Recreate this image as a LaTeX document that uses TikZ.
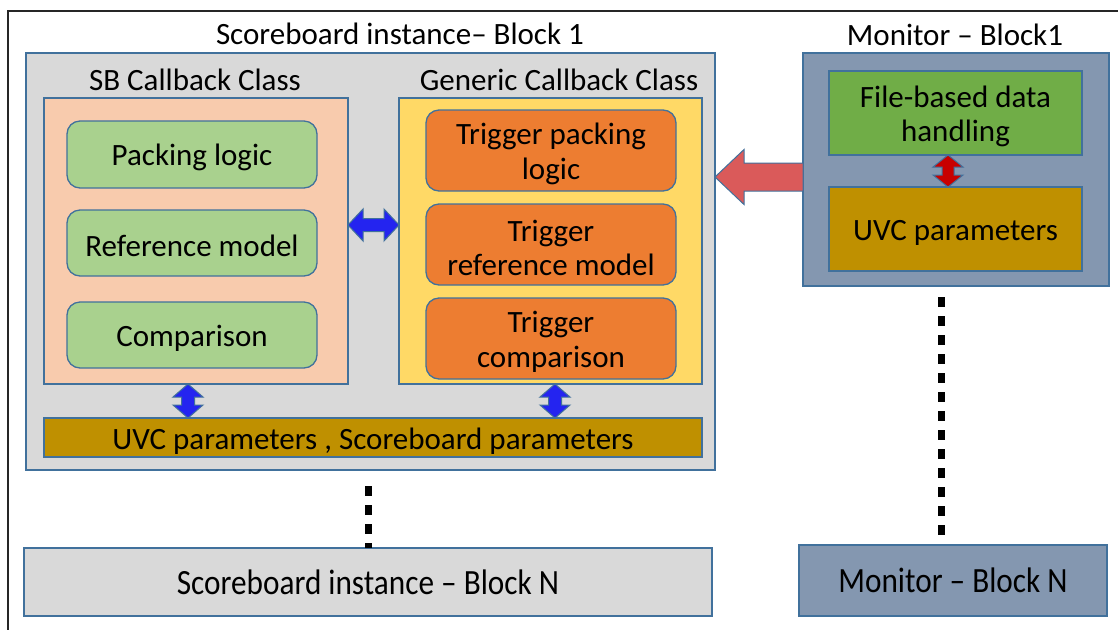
\documentclass[tikz,border=0pt]{standalone}
\usepackage{fontspec}
\usepackage{graphicx}
\setmainfont{Carlito}
\usetikzlibrary{calc}

\definecolor{edge}{HTML}{41719C}
\definecolor{panelgray}{HTML}{D9D9D9}
\definecolor{peach}{HTML}{F8CBAD}
\definecolor{lightgreen}{HTML}{A9D18E}
\definecolor{sunyellow}{HTML}{FFD966}
\definecolor{orangefill}{HTML}{ED7D31}
\definecolor{gold}{HTML}{BF9000}
\definecolor{slate}{HTML}{8497B0}
\definecolor{leafgreen}{HTML}{70AD47}
\definecolor{arrowblue}{HTML}{2424F0}
\definecolor{arrowred}{HTML}{C80000}
\definecolor{bigred}{HTML}{DA5A5A}

% tall invisible strut for the first line of a box text: sets it a little lower
\newcommand{\firstline}{\rule{0pt}{28pt}}

% vertical double block arrow: #1 top tip, #2 bottom tip, #3 head length,
% #4 head half width, #5 shaft half width, #6 fill
\newcommand{\vblockarrow}[6]{%
  \path[fill=#6, draw=edge, line width=1pt, line join=miter]
    let \p1=(#1), \p2=(#2) in
    (\x1,\y1) -- (\x1+#4,\y1-#3) -- (\x1+#5,\y1-#3) -- (\x1+#5,\y2+#3)
    -- (\x1+#4,\y2+#3) -- (\x1,\y2) -- (\x1-#4,\y2+#3) -- (\x1-#5,\y2+#3)
    -- (\x1-#5,\y1-#3) -- (\x1-#4,\y1-#3) -- cycle;}
% horizontal double block arrow: #1 left tip, #2 right tip
\newcommand{\hblockarrow}[6]{%
  \path[fill=#6, draw=edge, line width=1pt, line join=miter]
    let \p1=(#1), \p2=(#2) in
    (\x1,\y1) -- (\x1+#3,\y1+#4) -- (\x1+#3,\y1+#5) -- (\x2-#3,\y1+#5)
    -- (\x2-#3,\y1+#4) -- (\x2,\y1) -- (\x2-#3,\y1-#4) -- (\x2-#3,\y1-#5)
    -- (\x1+#3,\y1-#5) -- (\x1+#3,\y1-#4) -- cycle;}

\begin{document}
\begin{tikzpicture}[x=1pt, y=-1pt,
  every node/.style={inner sep=0pt, outer sep=0pt},
  txt/.style={font=\fontsize{31}{34.5}\selectfont, align=center},
  panel/.style={draw=edge, line width=1.3pt, txt},
  roundbox/.style={panel, rounded corners=13pt},
  label/.style={txt, anchor=base},
  tall/.style={font=\fontsize{35.5}{38}\selectfont},
  dotline/.style={line width=7pt, dash pattern=on 10pt off 9pt, black}]

\useasboundingbox (0,0) rectangle (1118,630);
\fill[white] (0,0) rectangle (1118,630);

% page frame
\draw[line width=2pt, black!85] (1118,11) -- (8,11) -- (8,630);

% scoreboard instance, block 1
\node[panel, fill=panelgray, minimum width=689pt, minimum height=417pt] (sb1) at (370.5,261.5) {};
\node[label] (sb1t) at (400,44) {Scoreboard instance– Block 1};

\node[panel, fill=peach, minimum width=304pt, minimum height=286pt] (sbc) at (196,241) {};
\node[label] (sbct) at (195,90) {SB Callback Class};
\node[roundbox, fill=lightgreen, minimum width=250pt, minimum height=67pt] (pack) at (192,154.5) {\firstline Packing logic};
\node[roundbox, fill=lightgreen, minimum width=250pt, minimum height=66pt] (refm) at (192,243) {\firstline Reference model};
\node[roundbox, fill=lightgreen, minimum width=250pt, minimum height=66pt] (comp) at (192,335) {\firstline Comparison};

\node[panel, fill=sunyellow, minimum width=303pt, minimum height=286pt] (gcc) at (550.5,241) {};
\node[label] (gcct) at (559,90) {Generic Callback Class};
\node[roundbox, fill=orangefill, minimum width=250pt, minimum height=81pt] (tpack) at (551,150.5) {\firstline Trigger packing\\logic};
\node[roundbox, fill=orangefill, minimum width=250pt, minimum height=81pt] (trefm) at (551,244.5) {\firstline Trigger\\reference model};
\node[roundbox, fill=orangefill, minimum width=250pt, minimum height=81pt] (tcomp) at (551,338.5) {\firstline Trigger\\comparison};

\node[panel, fill=gold, minimum width=658pt, minimum height=39pt] (params) at (373,437.5) {\firstline UVC parameters , Scoreboard parameters};

% monitor, block 1
\node[panel, fill=slate, minimum width=306pt, minimum height=233pt] (mon) at (956,169.5) {};
\node[label] (mont) at (955,45) {Monitor – Block1};
\node[panel, fill=leafgreen, minimum width=253pt, minimum height=84pt] (filed) at (955.5,113) {\firstline File-based data\\handling};
\node[panel, fill=gold, minimum width=253pt, minimum height=84pt] (muvc) at (955.5,229) {\firstline UVC parameters};

% block N instances
\node[panel, tall, fill=panelgray, minimum width=688pt, minimum height=68pt] (sbN) at (368,582)
  {\scalebox{0.88}[1]{Scoreboard instance – Block N}};
\node[panel, tall, fill=slate, minimum width=308pt, minimum height=71pt] (monN) at (953,580.5)
  {\scalebox{0.88}[1]{Monitor – Block N}};

% connectors
\coordinate (cbl) at ($(sbc.east)+(0,-16)$);
\coordinate (cbr) at ($(gcc.west)+(0,-16)$);
\hblockarrow{cbl}{cbr}{15pt}{16pt}{6.5pt}{arrowblue}

\coordinate (sbdown) at ($(sbc.south)+(-8,0)$);
\vblockarrow{sbdown}{sbdown |- params.north}{13pt}{15pt}{6.5pt}{arrowblue}
\coordinate (gcdown) at ($(gcc.south)+(4.5,0)$);
\vblockarrow{gcdown}{gcdown |- params.north}{13pt}{15pt}{6.5pt}{arrowblue}

\coordinate (fdown) at ($(filed.south)+(-7.5,0)$);
\vblockarrow{fdown}{fdown |- muvc.north}{12pt}{15pt}{6pt}{arrowred}

\coordinate (bigtip) at ($(sb1.east)+(0,-84.5)$);
\coordinate (bigtail) at (mon.west |- bigtip);
\path[fill=bigred, draw=edge, line width=1pt, line join=miter]
  let \p1=(bigtip), \p2=(bigtail) in
  (\x1,\y1) -- (\x1+29pt,\y1+27.5pt) -- (\x1+29pt,\y1+14pt) -- (\x2,\y1+14pt)
  -- (\x2,\y1-14pt) -- (\x1+29pt,\y1-14pt) -- (\x1+29pt,\y1-27.5pt) -- cycle;

% elided instances
\coordinate (sbgap) at ($(sbN.north)+(0,-62)$);
\draw[dotline] (sbgap) -- (sbN.north);
\coordinate (mongap) at ($(mon.south)+(-15,11)$);
\coordinate (mongapend) at ($(monN.north)+(-12,-5)$);
\draw[dotline] (mongap) -- (mongapend);
\end{tikzpicture}
\end{document}
